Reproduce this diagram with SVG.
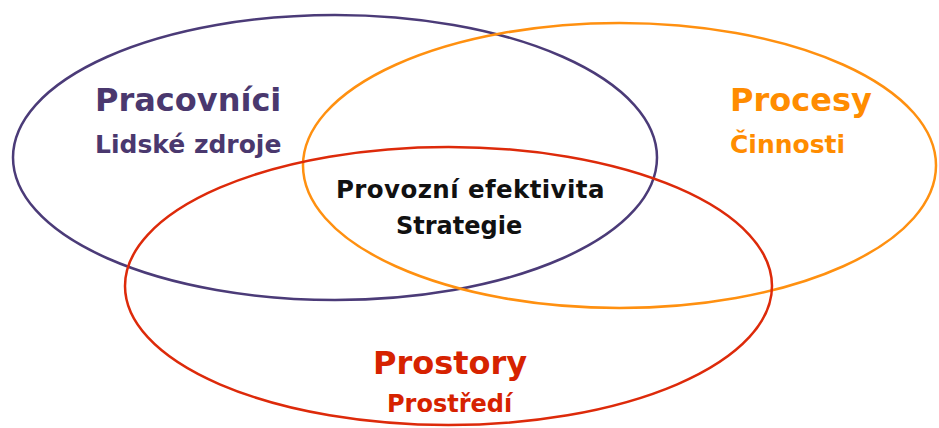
<svg xmlns="http://www.w3.org/2000/svg" width="939" height="428" viewBox="0 0 939 428">
<style>
.e{fill:none;stroke-width:2.5}
.t{font-family:"DejaVu Sans","Liberation Sans",sans-serif;font-weight:bold}
.big{font-size:32px}
.sm{font-size:25px}
</style>
<rect width="939" height="428" fill="#ffffff"/>
<g id="connectors">
<ellipse id="pracovnici-set" class="e" cx="335" cy="157.5" rx="322" ry="142.5" stroke="#4b3b78"/>
<ellipse id="procesy-set" class="e" cx="619.5" cy="165.5" rx="316.5" ry="142.5" stroke="#ff9010"/>
<ellipse id="prostory-set" class="e" cx="448.5" cy="286" rx="323.5" ry="139" stroke="#dd2a0a"/>
</g>
<g id="pracovnici">
<text class="t big" x="95" y="111" fill="#4a386e">Pracovníci</text>
<text class="t sm" x="95" y="153" fill="#4a386e">Lidské zdroje</text>
</g>
<g id="procesy">
<text class="t big" x="730" y="111" fill="#ff8c00">Procesy</text>
<text class="t sm" x="730" y="153" fill="#ff8c00">Činnosti</text>
</g>
<g id="centre">
<text class="t" font-size="24.5" letter-spacing="0.4" x="336" y="198" fill="#111111">Provozní efektivita</text>
<text class="t" font-size="24" x="396" y="234" fill="#111111">Strategie</text>
</g>
<g id="prostory">
<text class="t big" x="373" y="374" fill="#d62200">Prostory</text>
<text class="t" font-size="24" x="387" y="412" fill="#d62200">Prostředí</text>
</g>
</svg>
